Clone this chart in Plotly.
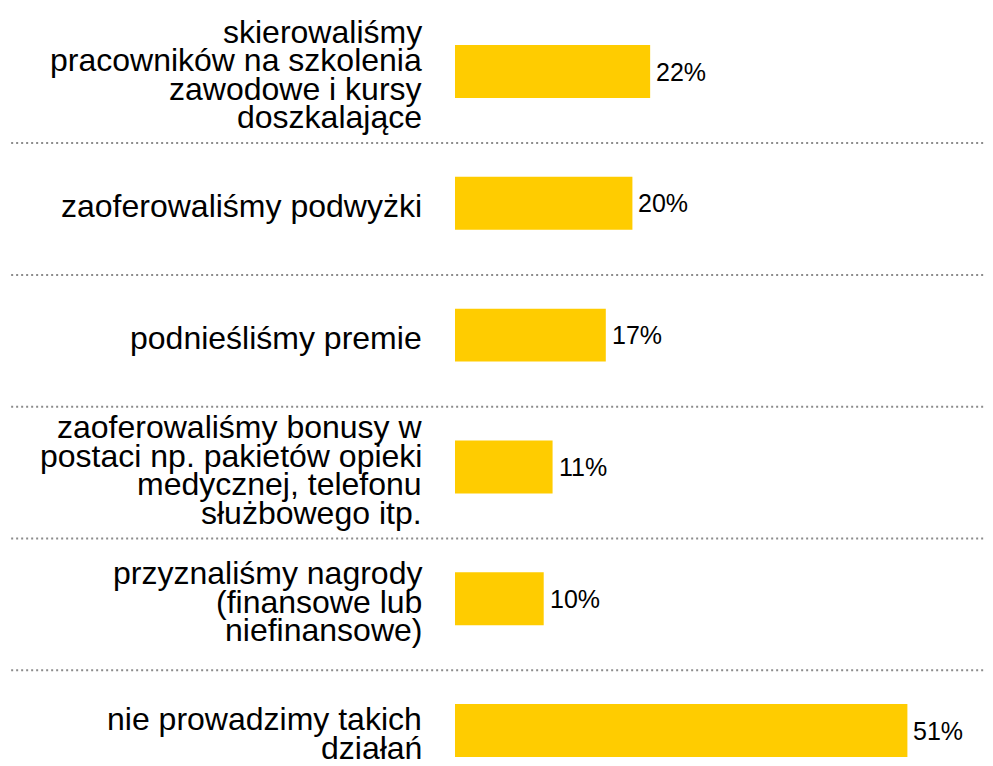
import plotly.graph_objects as go

# ---- data ----
categories = [
    ["skierowaliśmy", "pracowników na szkolenia", "zawodowe i kursy", "doszkalające"],
    ["zaoferowaliśmy podwyżki"],
    ["podnieśliśmy premie"],
    ["zaoferowaliśmy bonusy w", "postaci np. pakietów opieki", "medycznej, telefonu", "służbowego itp."],
    ["przyznaliśmy nagrody", "(finansowe lub", "niefinansowe)"],
    ["nie prowadzimy takich", "działań"],
]
values = [22, 20, 17, 11, 10, 51]
value_labels = ["22%", "20%", "17%", "11%", "10%", "51%"]

# ---- style ----
BAR_COLOR = "#FFCC00"
FONT = "Liberation Sans, Arial, sans-serif"
LABEL_SIZE = 32
VALUE_SIZE = 25
LINE_PITCH = 28.6
DIVIDER_OFFSET = 0.543

positions = list(range(len(values)))

fig = go.Figure()
fig.add_trace(go.Bar(
    x=values,
    y=positions,
    orientation="h",
    width=0.402,
    marker=dict(color=BAR_COLOR, line=dict(width=0)),
    hoverinfo="skip",
))

annotations = []
for i, lines in enumerate(categories):
    n = len(lines)
    for j, line in enumerate(lines):
        annotations.append(dict(
            x=0, y=positions[i], xref="x", yref="y",
            text=line, showarrow=False,
            xanchor="right", yanchor="middle",
            xshift=-31,
            yshift=-(j - (n - 1) / 2) * LINE_PITCH - 3,
            font=dict(family=FONT, size=LABEL_SIZE, color="#000000"),
        ))
for i, (v, lab) in enumerate(zip(values, value_labels)):
    annotations.append(dict(
        x=v, y=positions[i], xref="x", yref="y",
        text=lab, showarrow=False,
        xanchor="left", yanchor="middle", xshift=4,
        font=dict(family=FONT, size=VALUE_SIZE, color="#000000"),
    ))

shapes = []
for i in positions[:-1]:
    shapes.append(dict(
        type="line", xref="paper", yref="y",
        x0=-0.825, x1=1.0,
        y0=i + DIVIDER_OFFSET, y1=i + DIVIDER_OFFSET,
        line=dict(color="#8c8c8c", width=2, dash="2px,3px"),
    ))

fig.update_layout(
    width=985, height=758,
    margin=dict(l=447, r=0, t=0, b=0),
    paper_bgcolor="white", plot_bgcolor="white",
    showlegend=False,
    xaxis=dict(visible=False, range=[0, 60.65], fixedrange=True),
    yaxis=dict(visible=False, range=[5.269, -0.4818], fixedrange=True),
    annotations=annotations,
    shapes=shapes,
    font=dict(family=FONT),
)

fig.write_html("out.html")
